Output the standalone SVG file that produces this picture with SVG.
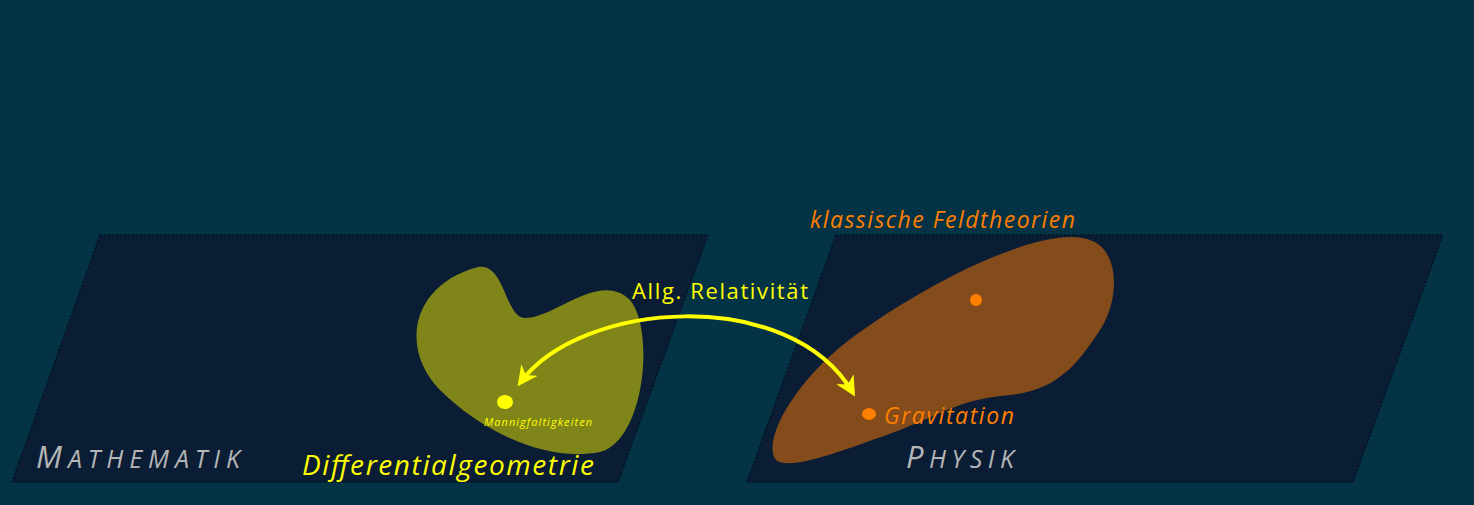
<svg xmlns="http://www.w3.org/2000/svg" width="1474" height="505" viewBox="0 0 1474 505">
<defs>
<style>
.plane{fill:#0a1d35;stroke:#02141f;stroke-width:1.5;stroke-dasharray:2 2}
.lbl{font-family:"Linux Biolinum","Open Sans","DejaVu Sans",sans-serif;font-style:italic}
</style>
<marker id="ah" viewBox="0 0 10 10" refX="8" refY="5" markerWidth="5" markerHeight="5" orient="auto-start-reverse" markerUnits="strokeWidth">
<path d="M0,0 L10,5 L0,10 L3,5 Z" fill="#ffff00"/>
</marker>
</defs>
<rect width="1474" height="505" fill="#033344"/>
<g id="mathematik">
<polygon class="plane" points="100,235 708,235 618,482 12,482"/>
<text class="lbl" x="36" y="468" font-size="31" fill="#b5b5b5" textLength="204" lengthAdjust="spacing">M<tspan font-size="25">ATHEMATIK</tspan></text>
</g>
<g id="physik">
<polygon class="plane" points="836,235 1443,235 1353,482 747,482"/>
<text class="lbl" x="906" y="468" font-size="31" fill="#b5b5b5" textLength="108" lengthAdjust="spacing">P<tspan font-size="25">HYSIK</tspan></text>
</g>
<g id="differentialgeometrie">
<path d="M478,267 C505,262 505,318 525,318 C555,318 600,270 630,300 C655,330 645,440 600,452 C545,463 480,430 440,390 C400,350 410,285 478,267 Z" fill="#808519"/>
<ellipse cx="505" cy="402" rx="8" ry="7" fill="#ffff00"/>
<text class="lbl" x="484" y="426" font-size="11" fill="#ffff00" textLength="108" lengthAdjust="spacing">Mannigfaltigkeiten</text>
<text class="lbl" x="302" y="475" font-size="28" fill="#ffff00" textLength="292" lengthAdjust="spacing">Differentialgeometrie</text>
</g>
<g id="feldtheorien">
<path d="M1090,240 C1120,250 1120,300 1100,330 C1080,360 1060,390 1010,395 C960,400 950,410 900,430 C850,448 790,472 776,460 C760,440 800,370 870,325 C950,270 1050,225 1090,240 Z" fill="#844b1b"/>
<ellipse cx="976" cy="300" rx="6" ry="6" fill="#ff7f00"/>
<ellipse cx="869" cy="414" rx="7" ry="6" fill="#ff7f00"/>
<text class="lbl" x="884" y="424" font-size="23" fill="#ff7f00" textLength="130" lengthAdjust="spacing">Gravitation</text>
<text class="lbl" x="810" y="228" font-size="23" fill="#ff7f00" textLength="265" lengthAdjust="spacing">klassische Feldtheorien</text>
</g>
<g id="connectors">
<path d="M520,383 C580,300 790,285 853,393" fill="none" stroke="#ffff00" stroke-width="4" marker-start="url(#ah)" marker-end="url(#ah)"/>
<text x="632" y="299" font-family="'Linux Biolinum','Open Sans','DejaVu Sans',sans-serif" font-size="22" fill="#ffff00" textLength="176" lengthAdjust="spacing">Allg. Relativität</text>
</g>
</svg>
